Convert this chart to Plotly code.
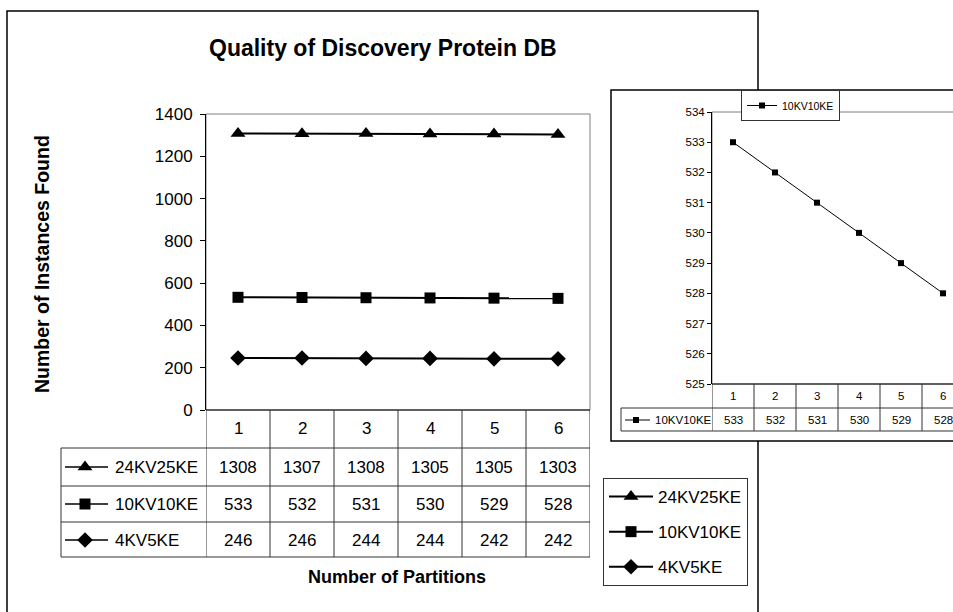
import plotly.graph_objects as go

# ---------------- data ----------------
partitions = [1, 2, 3, 4, 5, 6]
series_names = ["24KV25KE", "10KV10KE", "4KV5KE"]
vals_24kv25ke = [1308, 1307, 1308, 1305, 1305, 1303]
vals_10kv10ke = [533, 532, 531, 530, 529, 528]
vals_4kv5ke = [246, 246, 244, 244, 242, 242]
main_yticks = [0, 200, 400, 600, 800, 1000, 1200, 1400]
inset_yticks = [525, 526, 527, 528, 529, 530, 531, 532, 533, 534]

title_text = "Quality of Discovery Protein DB"
x_title = "Number of Partitions"
y_title = "Number of Instances Found"

series_values = [vals_24kv25ke, vals_10kv10ke, vals_4kv5ke]
symbols = ["triangle-up", "square", "diamond"]
marker_sizes = [13, 11, 12]

# ---------------- layout helpers ----------------
W, H = 953, 612
FONT = "Arial, Liberation Sans, sans-serif"


def px(x):
    return x / W


def py(y):
    return 1 - y / H


fig = go.Figure()

# main series
for name, vals, sym, ms in zip(series_names, series_values, symbols, marker_sizes):
    fig.add_trace(go.Scatter(
        x=partitions, y=vals, name=name, mode="lines+markers",
        line=dict(color="black", width=2),
        marker=dict(symbol=sym, size=ms, color="black"),
        legendgroup=name, xaxis="x", yaxis="y", legend="legend",
    ))

# inset series
fig.add_trace(go.Scatter(
    x=partitions, y=vals_10kv10ke, name="10KV10KE", mode="lines+markers",
    line=dict(color="black", width=1),
    marker=dict(symbol="square", size=6, color="black"),
    xaxis="x2", yaxis="y2", legend="legend2",
))

# table row-label key symbols (overlay axis in pixel units)
main_row_y = [467, 504, 540]
for r, sym, ms in zip(main_row_y, symbols, marker_sizes):
    fig.add_trace(go.Scatter(
        x=[65, 85, 108], y=[r, r, r], mode="lines",
        line=dict(color="black", width=1.5),
        showlegend=False, hoverinfo="skip", xaxis="x3", yaxis="y3",
    ))
    fig.add_trace(go.Scatter(
        x=[85], y=[r], mode="markers",
        marker=dict(symbol=sym, size=ms, color="black"),
        showlegend=False, hoverinfo="skip", xaxis="x3", yaxis="y3",
    ))
fig.add_trace(go.Scatter(
    x=[625, 650], y=[420, 420], mode="lines",
    line=dict(color="black", width=1),
    showlegend=False, hoverinfo="skip", xaxis="x3", yaxis="y3",
))
fig.add_trace(go.Scatter(
    x=[636], y=[420], mode="markers",
    marker=dict(symbol="square", size=6, color="black"),
    showlegend=False, hoverinfo="skip", xaxis="x3", yaxis="y3",
))

# ---------------- shapes ----------------
shapes = []
LINE = "#333333"
# outer chart frame
shapes.append(dict(type="rect", xref="paper", yref="paper",
                   x0=px(7), x1=px(758), y0=py(11), y1=py(630),
                   line=dict(color="black", width=1.5), fillcolor="rgba(0,0,0,0)", layer="below"))
# inset frame (white, covers the main frame line)
shapes.append(dict(type="rect", xref="paper", yref="paper",
                   x0=px(611), x1=px(990), y0=py(90), y1=py(441),
                   line=dict(color="black", width=1.5), fillcolor="white", layer="below"))
# plot-area borders (gray)
shapes.append(dict(type="rect", xref="x domain", yref="y domain", x0=0, x1=1, y0=0, y1=1,
                   line=dict(color="#808080", width=1), layer="below"))
shapes.append(dict(type="rect", xref="x2 domain", yref="y2 domain", x0=0, x1=1.2, y0=0, y1=1,
                   line=dict(color="#808080", width=1), layer="below"))

# main data table
main_left, main_right = 61, 590
shapes.append(dict(type="line", xref="paper", yref="paper", x0=px(206), x1=px(main_right),
                   y0=py(410), y1=py(410), line=dict(color="black", width=1.2)))
for yy in [448, 486, 522, 557]:
    shapes.append(dict(type="line", xref="paper", yref="paper", x0=px(main_left), x1=px(main_right),
                       y0=py(yy), y1=py(yy), line=dict(color=LINE, width=1)))
for k in range(len(partitions) + 1):
    edge = partitions[0] - 0.5 + k
    shapes.append(dict(type="line", xref="x", yref="paper", x0=edge, x1=edge,
                       y0=py(410), y1=py(557), line=dict(color=LINE, width=1)))
shapes.append(dict(type="line", xref="paper", yref="paper", x0=px(main_left), x1=px(main_left),
                   y0=py(448), y1=py(557), line=dict(color=LINE, width=1)))

# inset data table
shapes.append(dict(type="line", xref="paper", yref="paper", x0=px(712), x1=1.05,
                   y0=py(384), y1=py(384), line=dict(color="black", width=1.2)))
for yy in [408, 431]:
    shapes.append(dict(type="line", xref="paper", yref="paper", x0=px(621), x1=1.05,
                       y0=py(yy), y1=py(yy), line=dict(color=LINE, width=1)))
for k in range(len(partitions) + 1):
    edge = partitions[0] - 0.5 + k
    shapes.append(dict(type="line", xref="x2", yref="paper", x0=edge, x1=edge,
                       y0=py(384), y1=py(431), line=dict(color=LINE, width=1)))
shapes.append(dict(type="line", xref="paper", yref="paper", x0=px(621), x1=px(621),
                   y0=py(408), y1=py(431), line=dict(color=LINE, width=1)))

# ---------------- annotations ----------------
ann = []


def note(text, x, y, xref="paper", font=None, xanchor="center", **kw):
    d = dict(text=text, x=x, y=y, xref=xref, yref="paper", showarrow=False,
             xanchor=xanchor, yanchor="middle", font=font)
    d.update(kw)
    ann.append(d)


note(f"<b>{title_text}</b>", px(383), py(48), font=dict(size=23, color="black", family=FONT))
note(f"<b>{x_title}</b>", px(397), py(577), font=dict(size=18, color="black", family=FONT))
note(f"<b>{y_title}</b>", px(42), py(264), font=dict(size=19.5, color="black", family=FONT), textangle=-90)

cell_font = dict(size=17, color="black", family=FONT)
for c in partitions:
    note(str(c), c, py(429), xref="x", font=cell_font)
for r, name, vals in zip(main_row_y, series_names, series_values):
    note(name, px(113), py(r), font=cell_font, xanchor="left")
    for c, v in zip(partitions, vals):
        note(str(v), c, py(r), xref="x", font=cell_font)

small_font = dict(size=11.5, color="black", family=FONT)
for c in partitions:
    note(str(c), c, py(396), xref="x2", font=small_font)
note("10KV10KE", px(653), py(420), font=small_font, xanchor="left")
for c, v in zip(partitions, vals_10kv10ke):
    note(str(v), c, py(420), xref="x2", font=small_font)

# ---------------- layout ----------------
fig.update_layout(
    width=W, height=H, autosize=False,
    margin=dict(l=0, r=0, t=0, b=0, pad=0, autoexpand=False),
    paper_bgcolor="white", plot_bgcolor="rgba(0,0,0,0)",
    font=dict(family=FONT, color="black"),
    shapes=shapes, annotations=ann,
    xaxis=dict(domain=[px(206), px(590)], range=[0.5, 6.5], anchor="y", automargin=False,
               showline=False, showticklabels=False, showgrid=False, zeroline=False, ticks=""),
    yaxis=dict(domain=[py(410), py(114)], range=[0, 1400], anchor="x", automargin=False,
               tickvals=main_yticks, ticks="outside", ticklen=5, tickcolor="black",
               ticklabelstandoff=4,
               showline=True, linecolor="black", linewidth=1, showgrid=False, zeroline=False,
               tickfont=dict(size=17, color="black", family=FONT)),
    xaxis2=dict(domain=[px(712), 1], range=[0.5, 0.5 + (W - 712) / 42], anchor="y2", automargin=False,
                showline=False, showticklabels=False, showgrid=False, zeroline=False, ticks=""),
    yaxis2=dict(domain=[py(384), py(112)], range=[525, 534], anchor="x2", automargin=False,
                tickvals=inset_yticks, ticks="outside", ticklen=4, tickcolor="black",
                showline=True, linecolor="black", linewidth=1, showgrid=False, zeroline=False,
                tickfont=dict(size=11.5, color="black", family=FONT)),
    xaxis3=dict(domain=[0, 1], range=[0, W], anchor="y3", visible=False, fixedrange=True, automargin=False),
    yaxis3=dict(domain=[0, 1], range=[H, 0], anchor="x3", visible=False, fixedrange=True, automargin=False),
    legend=dict(x=px(603), y=py(478), xanchor="left", yanchor="top",
                bgcolor="white", bordercolor="#333333", borderwidth=1,
                font=dict(size=17, color="black", family=FONT),
                itemwidth=44,
                traceorder="grouped", tracegroupgap=10),
    legend2=dict(x=px(741), y=py(90), xanchor="left", yanchor="top",
                 bgcolor="white", bordercolor="#333333", borderwidth=1,
                 font=dict(size=10.5, color="black", family=FONT)),
    showlegend=True,
)

fig.write_html("out.html")
